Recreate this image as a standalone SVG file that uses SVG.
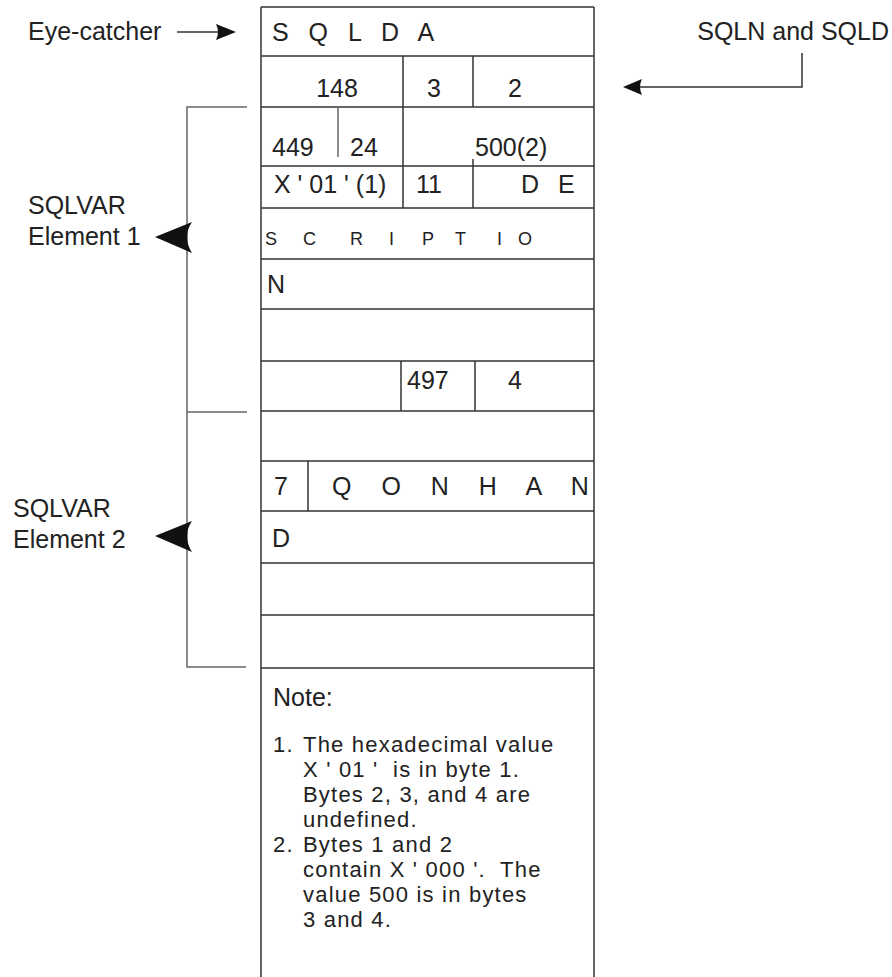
<svg xmlns="http://www.w3.org/2000/svg" width="892" height="977" viewBox="0 0 892 977">
<style>
.ln{stroke:#333;stroke-width:1.5;fill:none}
.lg{stroke:#666;stroke-width:1.5;fill:none}
.t{font-family:"Liberation Sans",Arial,sans-serif;font-size:25px;fill:#222}
.tn{font-family:"Liberation Sans",Arial,sans-serif;font-size:22px;letter-spacing:1.2px;fill:#222}
.ts{font-family:"Liberation Sans",Arial,sans-serif;font-size:18px;fill:#222}
.ah{fill:#111;stroke:none}
</style>
<rect width="892" height="977" fill="#fff"/>
<g id="table">
<path class="ln" d="M261,7 V977 M594,7 V977 M261,7 H594 M261,56 H594 M261,107 H594 M261,166 H594 M261,208 H594 M261,259 H594 M261,309 H594 M261,361 H594 M261,411 H594 M261,461 H594 M261,511 H594 M261,563 H594 M261,615 H594 M261,668 H594"/>
<path class="ln" d="M403,56 V208 M473,56 V107 M473,159 V208 M401,361 V411 M475,361 V411 M308,461 V511"/>
<path class="lg" d="M338,107 V157"/>
</g>
<g id="row-sqlda"><text class="t" x="272" y="41" style="letter-spacing:6.5px" xml:space="preserve">S Q L D A</text></g>
<g id="row-sqln">
<text class="t" x="337" y="97" text-anchor="middle">148</text>
<text class="t" x="434" y="97" text-anchor="middle">3</text>
<text class="t" x="515" y="97" text-anchor="middle">2</text>
</g>
<g id="row-3">
<text class="t" x="272" y="156">449</text>
<text class="t" x="350" y="156">24</text>
<text class="t" x="475" y="156">500(2)</text>
</g>
<g id="row-4">
<text class="t" x="274" y="193" xml:space="preserve">X ' 01 ' (1)</text>
<text class="t" x="416" y="193">11</text>
<text class="t" x="521" y="193" style="letter-spacing:6px" xml:space="preserve">D E</text>
</g>
<g id="row-5"><text class="ts" x="265 284 303 326 350 369 389 405 422 438 455 476 497 507 518" y="245" xml:space="preserve">S C R I P T I O</text></g>
<g id="row-6"><text class="t" x="267" y="293">N</text></g>
<g id="row-8">
<text class="t" x="407" y="389">497</text>
<text class="t" x="508" y="389">4</text>
</g>
<g id="row-10">
<text class="t" x="274" y="495">7</text>
<text class="t" x="332" y="495" style="letter-spacing:11.5px" xml:space="preserve">Q O N H A N</text>
</g>
<g id="row-11"><text class="t" x="272" y="547">D</text></g>
<g id="note">
<text class="t" x="273" y="706">Note:</text>
<text class="tn" xml:space="preserve"><tspan x="273" y="752">1.</tspan><tspan x="303" y="752">The hexadecimal value</tspan><tspan x="303" y="777">X ' 01 '  is in byte 1.</tspan><tspan x="303" y="802">Bytes 2, 3, and 4 are</tspan><tspan x="303" y="827">undefined.</tspan><tspan x="273" y="852">2.</tspan><tspan x="303" y="852">Bytes 1 and 2</tspan><tspan x="303" y="877">contain X ' 000 '.  The</tspan><tspan x="303" y="902">value 500 is in bytes</tspan><tspan x="303" y="927">3 and 4.</tspan></text>
</g>
<g id="label-eye"><text class="t" x="28" y="40">Eye-catcher</text></g>
<g id="label-sqln"><text class="t" x="889" y="40" text-anchor="end">SQLN and SQLD</text></g>
<g id="label-el1">
<text class="t" x="28" y="214">SQLVAR</text>
<text class="t" x="28" y="245">Element 1</text>
</g>
<g id="label-el2">
<text class="t" x="13" y="517">SQLVAR</text>
<text class="t" x="13" y="548">Element 2</text>
</g>
<g id="connectors">
<path class="ln" d="M177,32 H222"/>
<path class="ah" d="M236,32 L216,24 Q220,32 216,40 Z"/>
<path class="ln" d="M802,53 V87 H636"/>
<path class="ah" d="M623,87 L642,79 Q638,87 642,95 Z"/>
<path class="lg" d="M247,107 H187 V667 H246 M187,412 H247"/>
<path class="ah" d="M155,237 L192,222 Q182,237 192,253 Z"/>
<path class="ah" d="M155,536 L192,521 Q182,536 192,552 Z"/>
</g>
</svg>
